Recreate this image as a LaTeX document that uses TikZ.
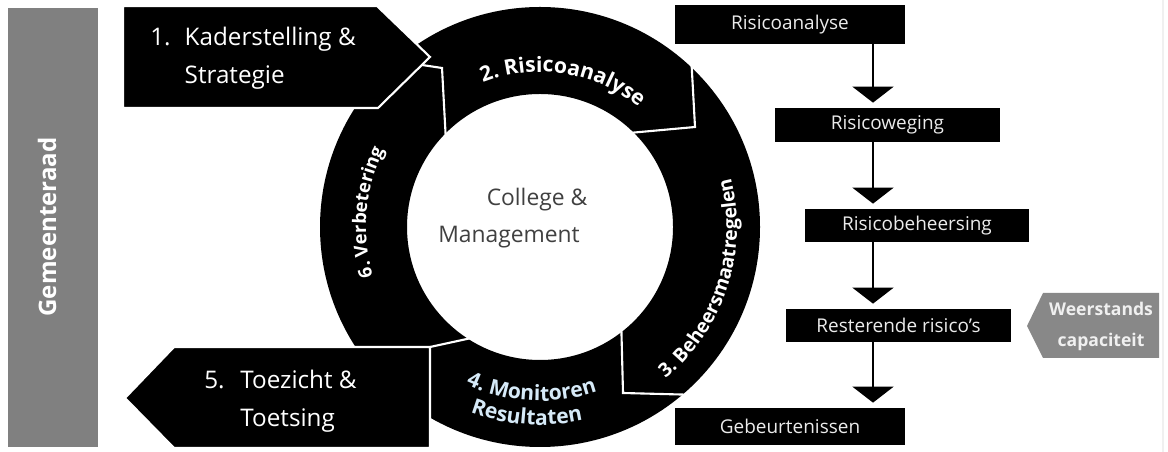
\documentclass[tikz,border=0pt]{standalone}
\usepackage{fontspec}
\setmainfont{Open Sans}
\usetikzlibrary{arrows.meta,decorations.text}

\definecolor{barGrey}{RGB}{128,128,128}
\definecolor{capGrey}{RGB}{136,136,136}
\definecolor{coreText}{RGB}{64,64,64}
\definecolor{iceBlue}{RGB}{214,234,248}

\newcommand\ringfont[1]{\fontsize{#1}{14}\selectfont\bfseries}
\newcommand\stepfont{\fontsize{13.8}{21.6}\selectfont}

\tikzset{
  riskbox/.style={fill=black, text=white!92!black, inner sep=0pt, font=\fontsize{10.8}{13}\selectfont},
  flow/.style={line width=1.1pt, -{Triangle[width=0.82cm,length=0.32cm]}, shorten >=0.1cm},
  seam/.style={white, line width=1.2pt, line join=miter},
  ringtext/.style={decorate, decoration={text along path, text align=center, text color=#1}},
}

\begin{document}
\begin{tikzpicture}[x=0.02cm, y=0.02cm]
	\useasboundingbox (0,0) rectangle (1168,452);
	\coordinate (C) at (540,225);
	% council bar
	\fill [barGrey] (8,5) rectangle (98,444);
	\node [rotate=90, text=white, font=\fontsize{13.7}{16}\selectfont\bfseries] (council) at (47,225) {Gemeenteraad};
	% the cycle
	\fill [black, even odd rule] (C) circle (220) (C) circle (133);
	\filldraw [fill=black, draw=white, line width=1.2pt, line join=miter] (123,446) -- (377,446) -- (430,395) -- (378,344) -- (123,344) -- cycle;
	\filldraw [fill=black, draw=white, line width=1.2pt, line join=miter] (125,54) -- (174,105) -- (430,105) -- (430,4) -- (174,4) -- cycle;
	\node [anchor=west, text=white, font=\stepfont, inner sep=0pt] (frame) at (150,395)
		{\begin{tabular}{@{}l@{\hspace{8pt}}l@{}}1.&Kaderstelling \&\\&Strategie\end{tabular}};
	\node [anchor=west, text=white, font=\stepfont, inner sep=0pt] (review) at (204,52.5)
		{\begin{tabular}{@{}l@{\hspace{9pt}}l@{}}5.&Toezicht \&\\&Toetsing\end{tabular}};
	\draw [seam] (422,387) -- (442,384) -- (446,310);
	\draw [seam] (691,398) -- (695,325) -- (618,318);
	\draw [seam] (621,137) -- (623,59) -- (700,57);
	\draw [seam] (430,105) -- (476,115);
	\path [ringtext=white, decoration={text={|\ringfont{12}|2. Risicoanalyse}}] (C) ++(141:155) arc (141:21:155);
	\path [ringtext=white, decoration={text={|\ringfont{11}|3. Beheersmaatregelen}}] (C) ++(-68:197) arc (-68:32:197);
	\path [ringtext=iceBlue, decoration={text={|\ringfont{12}|4. Monitoren}}] (C) ++(227:174) arc (227:307:174);
	\path [ringtext=iceBlue, decoration={text={|\ringfont{12}|Resultaten}}] (C) ++(236:198) arc (236:296:198);
	\path [ringtext=white, decoration={text={|\ringfont{10.5}|6. Verbetering}}] (C) ++(215:174) arc (215:135:174);
	\node [text=coreText, font=\fontsize{13}{15}\selectfont] (college) at (537,252) {College \&};
	\node [text=coreText, font=\fontsize{13}{15}\selectfont] (mgmt) at (509,215) {Management};
	% risk chain
	\coordinate (spine) at (873,0);
	\foreach \n/\x/\y/\w/\h/\t in {ra/790/427.5/230/39/Risicoanalyse, rw/887.5/327/225/34/Risicoweging, rb/917/226.5/224/33/Risicobeheersing, rr/898.5/126.5/225/33/Resterende risico’s, ge/790/25.5/230/37/Gebeurtenissen}
		\node [riskbox, minimum width=\w*0.02cm, minimum height=\h*0.02cm] (\n) at (\x,\y) {\t};
	\foreach \a/\b in {ra/rw, rw/rb, rb/rr, rr/ge}
		\draw [flow] (\a.south -| spine) -- (\b.north -| spine);
	\fill [capGrey] (1027,126) -- (1043,159) -- (1159,159) -- (1159,94) -- (1043,94) -- cycle;
	\node [text=white!94!black, font=\fontsize{10}{17.6}\selectfont\bfseries, align=center] (buffer) at (1101,126) {Weerstands\\capaciteit};
	\draw [gray!12, line width=0.8pt] (1163,0) -- (1163,452);
\end{tikzpicture}
\end{document}
